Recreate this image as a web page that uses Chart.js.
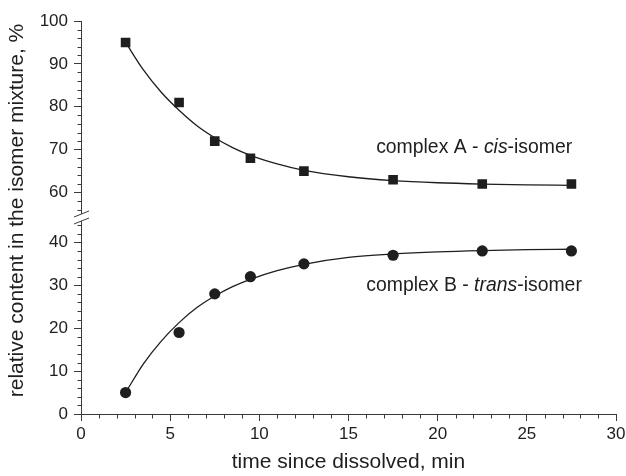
<!DOCTYPE html>
<html>
<head>
<meta charset="utf-8">
<script src="https://cdn.jsdelivr.net/npm/chart.js@4.4.0/dist/chart.umd.min.js"></script>
<style>
  html, body { margin: 0; padding: 0; background: #fff; }
  #wrap { width: 626px; height: 476px; }
</style>
</head>
<body>
<div id="wrap"><canvas id="isomerChart" width="626" height="476"></canvas></div>
<script>
// measured points (time in min, content in %)
const timeMin = [2.5, 5.5, 7.5, 9.5, 12.5, 17.5, 22.5, 27.5];
const cisA = [95, 81, 72, 68, 65, 63, 62, 62];
const transB = [5, 19, 28, 32, 35, 37, 38, 38];

// fitted curves
const fitTime = [2.5, 3.5, 4.5, 5.5, 6.5, 7.5, 8.5, 9.5, 11, 12.5, 15, 17.5, 20, 22.5, 25, 27.5];
const fitA = [95, 88.6, 83.4, 79.2, 75.6, 72.8, 70.5, 68.7, 66.7, 65.2, 63.7, 62.8, 62.3, 62.0, 61.8, 61.7];
const fitB = [5, 11.7, 17.0, 21.3, 24.8, 27.5, 29.7, 31.4, 33.4, 34.9, 36.5, 37.3, 37.8, 38.1, 38.3, 38.4];

// tick labels
const xTicks = [0, 5, 10, 15, 20, 25, 30];
const yTopTicks = [60, 70, 80, 90, 100];
const yBottomTicks = [0, 10, 20, 30, 40];

const ink = '#1e1e1e';
const axisColor = '#3a3a3a';
const fontFamily = '"Liberation Sans", Arial, Helvetica, sans-serif';

function toPoints(xs, ys) {
    return xs.map((x, i) => ({ x: x, y: ys[i] }));
}

function fixedTicks(values) {
    return function(scale) {
        scale.ticks = values.map(v => ({ value: v }));
    };
}

// axis lines, minor ticks, break marks and the two labels
const brokenAxis = {
    id: 'brokenAxis',
    afterDraw(chart) {
        const ctx = chart.ctx;
        const xs = chart.scales.x;
        const yt = chart.scales.yTop;
        const yb = chart.scales.yBottom;
        const ax = Math.round(chart.chartArea.left) + 0.5;
        const brk = (yt.bottom + yb.top) / 2;
        const gap = 3.5;

        ctx.save();
        ctx.strokeStyle = axisColor;
        ctx.lineWidth = 1;

        // y axis in two pieces
        ctx.beginPath();
        ctx.moveTo(ax, yt.top);
        ctx.lineTo(ax, brk - gap);
        ctx.moveTo(ax, brk + gap);
        ctx.lineTo(ax, yb.bottom);
        ctx.stroke();

        // break marks
        ctx.beginPath();
        [-gap, gap].forEach(d => {
            ctx.moveTo(ax - 7.5, brk + d + 3);
            ctx.lineTo(ax + 7.5, brk + d - 3);
        });
        ctx.stroke();

        // minor ticks
        ctx.beginPath();
        for (let v = 56; v <= 100; v += 2) {
            if (v % 10 === 0) continue;
            const py = Math.round(yt.getPixelForValue(v)) + 0.5;
            ctx.moveTo(ax - 4, py);
            ctx.lineTo(ax, py);
        }
        for (let v = 2; v <= 44; v += 2) {
            if (v % 10 === 0) continue;
            const py = Math.round(yb.getPixelForValue(v)) + 0.5;
            ctx.moveTo(ax - 4, py);
            ctx.lineTo(ax, py);
        }
        const ay = Math.round(chart.chartArea.bottom) + 0.5;
        for (let v = 1; v < 30; v++) {
            if (v % 5 === 0) continue;
            const px = Math.round(xs.getPixelForValue(v)) + 0.5;
            ctx.moveTo(px, ay);
            ctx.lineTo(px, ay + 4);
        }
        ctx.stroke();

        // y axis title
        ctx.fillStyle = ink;
        ctx.font = '21px ' + fontFamily;
        ctx.textAlign = 'center';
        ctx.textBaseline = 'middle';
        ctx.save();
        ctx.translate(17, (chart.chartArea.top + chart.chartArea.bottom) / 2 - 7);
        ctx.rotate(-Math.PI / 2);
        ctx.fillText('relative content in the isomer mixture, %', 0, 0);
        ctx.restore();

        // series labels
        drawLabel(ctx, ['complex A - ', 'cis', '-isomer'],
            xs.getPixelForValue(16.55), yt.getPixelForValue(69.2));
        drawLabel(ctx, ['complex B - ', 'trans', '-isomer'],
            xs.getPixelForValue(16.0), yb.getPixelForValue(28.7));
        ctx.restore();
    }
};

function drawLabel(ctx, parts, x, y) {
    ctx.textAlign = 'left';
    ctx.textBaseline = 'alphabetic';
    ctx.fillStyle = ink;
    parts.forEach((p, i) => {
        ctx.font = (i === 1 ? 'italic ' : '') + '19.4px ' + fontFamily;
        ctx.fillText(p, x, y);
        x += ctx.measureText(p).width;
    });
}

const ctx = document.getElementById('isomerChart').getContext('2d');
new Chart(ctx, {
    type: 'scatter',
    data: {
        datasets: [
            {
                label: 'fit A',
                data: toPoints(fitTime, fitA),
                yAxisID: 'yTop',
                showLine: true,
                borderColor: ink,
                borderWidth: 1.3,
                pointRadius: 0,
                cubicInterpolationMode: 'monotone',
                order: 2
            },
            {
                label: 'fit B',
                data: toPoints(fitTime, fitB),
                yAxisID: 'yBottom',
                showLine: true,
                borderColor: ink,
                borderWidth: 1.3,
                pointRadius: 0,
                cubicInterpolationMode: 'monotone',
                order: 2
            },
            {
                label: 'complex A - cis-isomer',
                data: toPoints(timeMin, cisA),
                yAxisID: 'yTop',
                pointStyle: 'rect',
                pointRadius: 6.8,
                pointBackgroundColor: ink,
                pointBorderColor: ink,
                pointBorderWidth: 0,
                order: 1
            },
            {
                label: 'complex B - trans-isomer',
                data: toPoints(timeMin, transB),
                yAxisID: 'yBottom',
                pointStyle: 'circle',
                pointRadius: 5.6,
                pointBackgroundColor: ink,
                pointBorderColor: ink,
                pointBorderWidth: 0,
                order: 1
            }
        ]
    },
    options: {
        responsive: false,
        animation: false,
        devicePixelRatio: 1,
        layout: { padding: { top: 21, right: 0, bottom: 0, left: 0 } },
        plugins: {
            legend: { display: false },
            tooltip: { enabled: false }
        },
        scales: {
            x: {
                type: 'linear',
                min: 0,
                max: 30,
                afterBuildTicks: fixedTicks(xTicks),
                afterFit: function(scale) {
                    scale.height = 62;
                    scale.paddingLeft = 0;
                    scale.paddingRight = 10;
                },
                border: { display: true, color: axisColor, width: 1 },
                grid: { display: true, drawOnChartArea: false, drawTicks: true, tickLength: 7, color: axisColor },
                ticks: { color: ink, font: { family: fontFamily, size: 17 }, padding: 3, maxRotation: 0 },
                title: {
                    display: true,
                    text: 'time since dissolved, min',
                    color: ink,
                    font: { family: fontFamily, size: 21 },
                    padding: { top: 0, bottom: 1 }
                }
            },
            yBottom: {
                type: 'linear',
                position: 'left',
                stack: 'content',
                stackWeight: 1,
                min: 0,
                max: 45.8,
                afterBuildTicks: fixedTicks(yBottomTicks),
                afterFit: function(scale) { scale.width = 81; },
                border: { display: false },
                grid: { display: true, drawOnChartArea: false, drawTicks: true, tickLength: 7, color: axisColor },
                ticks: { color: ink, font: { family: fontFamily, size: 17 }, padding: 6 }
            },
            yTop: {
                type: 'linear',
                position: 'left',
                stack: 'content',
                stackWeight: 1,
                min: 54.2,
                max: 100,
                afterBuildTicks: fixedTicks(yTopTicks),
                afterFit: function(scale) { scale.width = 81; },
                border: { display: false },
                grid: { display: true, drawOnChartArea: false, drawTicks: true, tickLength: 7, color: axisColor },
                ticks: { color: ink, font: { family: fontFamily, size: 17 }, padding: 6 }
            }
        }
    },
    plugins: [brokenAxis]
});
</script>
</body>
</html>
